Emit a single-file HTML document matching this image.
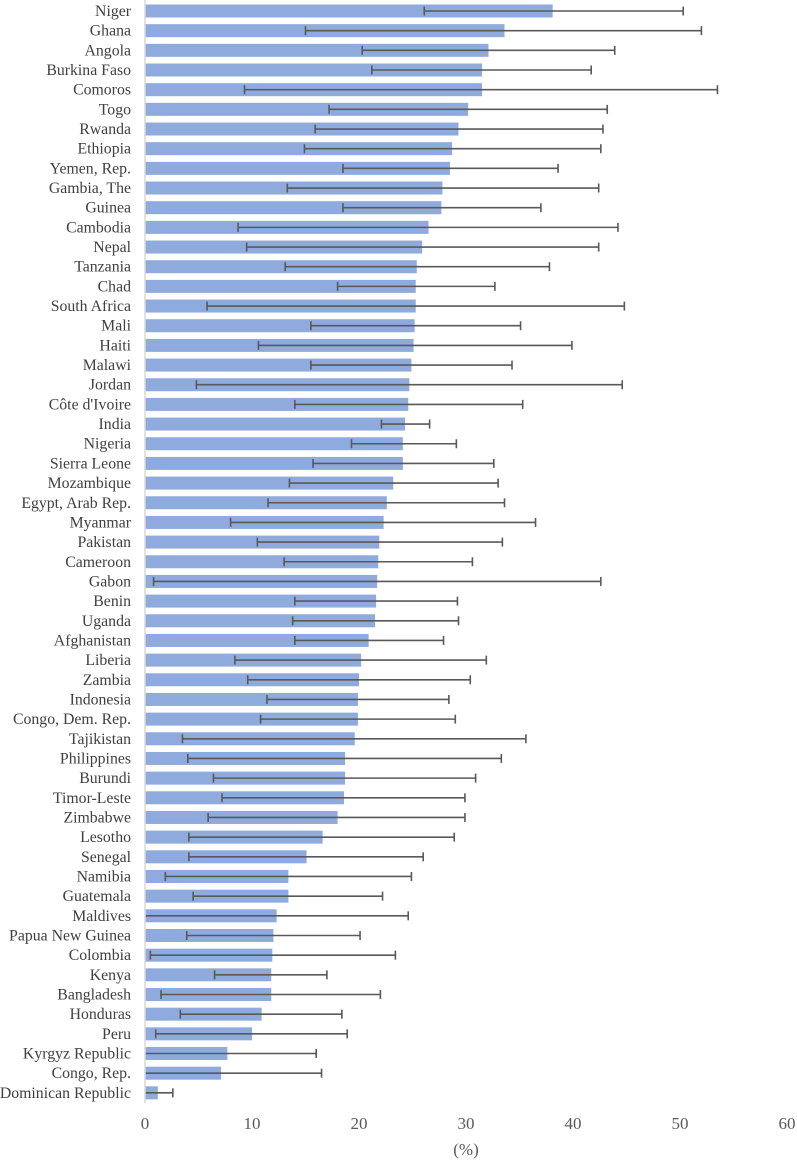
<!DOCTYPE html>
<html><head><meta charset="utf-8"><style>
body{margin:0;background:#fff;}
svg{display:block;font-family:"Liberation Serif",serif;}
</style></head><body>
<svg id="chart" width="797" height="1162" xmlns="http://www.w3.org/2000/svg"></svg>
<script>
const categories=["Niger","Ghana","Angola","Burkina Faso","Comoros","Togo","Rwanda","Ethiopia","Yemen, Rep.","Gambia, The","Guinea","Cambodia","Nepal","Tanzania","Chad","South Africa","Mali","Haiti","Malawi","Jordan","Côte d'Ivoire","India","Nigeria","Sierra Leone","Mozambique","Egypt, Arab Rep.","Myanmar","Pakistan","Cameroon","Gabon","Benin","Uganda","Afghanistan","Liberia","Zambia","Indonesia","Congo, Dem. Rep.","Tajikistan","Philippines","Burundi","Timor-Leste","Zimbabwe","Lesotho","Senegal","Namibia","Guatemala","Maldives","Papua New Guinea","Colombia","Kenya","Bangladesh","Honduras","Peru","Kyrgyz Republic","Congo, Rep.","Dominican Republic"];
const values=[38.1,33.6,32.1,31.5,31.5,30.2,29.3,28.7,28.5,27.8,27.7,26.5,25.9,25.4,25.3,25.3,25.2,25.1,24.9,24.7,24.6,24.3,24.1,24.1,23.2,22.6,22.3,21.9,21.8,21.7,21.6,21.5,20.9,20.2,20.0,19.9,19.9,19.6,18.7,18.7,18.6,18.0,16.6,15.1,13.4,13.4,12.3,12.0,11.9,11.8,11.8,10.9,10.0,7.7,7.1,1.2];
const lows=[26.1,15.0,20.3,21.2,9.3,17.2,15.9,14.9,18.5,13.3,18.5,8.7,9.5,13.1,18.0,5.8,15.5,10.6,15.5,4.8,14.0,22.1,19.3,15.7,13.5,11.5,8.0,10.5,13.0,0.8,14.0,13.8,14.0,8.4,9.6,11.4,10.8,3.5,4.0,6.4,7.2,5.9,4.1,4.1,1.9,4.5,0,3.9,0.5,6.5,1.5,3.3,1.0,0,0,0];
const highs=[50.3,52.0,43.9,41.7,53.5,43.2,42.8,42.6,38.6,42.4,37.0,44.2,42.4,37.8,32.7,44.8,35.1,39.9,34.3,44.6,35.3,26.6,29.1,32.6,33.0,33.6,36.5,33.4,30.6,42.6,29.2,29.3,27.9,31.9,30.4,28.4,29.0,35.6,33.3,30.9,29.9,29.9,28.9,26.0,24.9,22.2,24.6,20.1,23.4,17.0,22.0,18.4,18.9,16.0,16.5,2.6];
const ticks=[0,10,20,30,40,50,60];

const X0=145, PX=10.7, Y0=11, STEP=19.67, BH=13;
const x=v=>X0+v*PX;
const y=i=>Y0+i*STEP;
const svg=document.getElementById('chart');
const NS='http://www.w3.org/2000/svg';
function mk(tag,attrs,parent){const e=document.createElementNS(NS,tag);for(const k in attrs)e.setAttribute(k,attrs[k]);(parent||svg).appendChild(e);return e;}

categories.forEach((c,i)=>{
  const cy=y(i);
  const t=mk('text',{x:131,y:cy+5,'text-anchor':'end','font-size':'15.8',fill:'#404040'});
  t.textContent=c;
  
  
  const r=mk('rect',{x:x(0),y:cy-BH/2,width:Math.max(0,x(values[i])-x(0)),height:BH,fill:'#8faadc'});
  
  
  const g=mk('g',{stroke:'#595959','stroke-width':'1.6'});
  
  
  mk('line',{x1:x(lows[i]),x2:x(highs[i]),y1:cy,y2:cy},g);
  if(lows[i]>0.3) mk('line',{x1:x(lows[i]),x2:x(lows[i]),y1:cy-4.5,y2:cy+4.5},g);
  mk('line',{x1:x(highs[i]),x2:x(highs[i]),y1:cy-4.5,y2:cy+4.5},g);
});

const ax=mk('line',{x1:X0,x2:X0,y1:0,y2:1103,stroke:'#d9d9d9','stroke-width':'1.5'});



ticks.forEach(v=>{
  const t=mk('text',{x:x(v),y:1129,'text-anchor':'middle','font-size':'17',fill:'#595959'});
  t.textContent=v;
  
  
});
const xt=mk('text',{x:x(30),y:1155,'text-anchor':'middle','font-size':'17',fill:'#595959'});
xt.textContent='(%)';


</script>
</body></html>
